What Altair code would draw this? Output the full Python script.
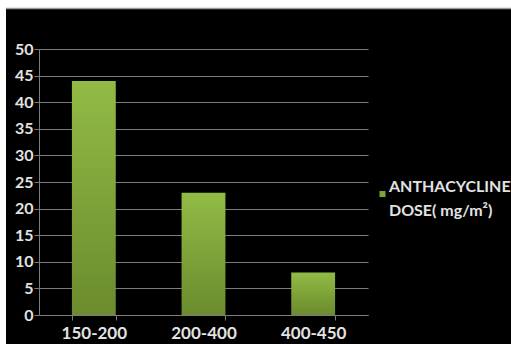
import altair as alt
import pandas as pd

# Bar categories (anthracycline dose ranges, mg/m²) and their counts
categories = ["150-200", "200-400", "400-450"]
values = [44, 23, 8]
series_name = "ANTHACYCLINE|DOSE( mg/m²)"
y_ticks = list(range(0, 55, 5))

bars_df = pd.DataFrame({"dose": categories, "count": values})
legend_df = pd.DataFrame({"series": [series_name]})

W, H = 329, 266
PAD_L, PAD_T = 39, 49
FULL_W, FULL_H = 511, 344

GRID = "#7c7c7c"
LABEL = "#e2e2e2"
GREEN = "#7fa638"
FONT = "Lato"

bar_fill = alt.Gradient(
    gradient="linear",
    stops=[
        alt.GradientStop(color="#92bb45", offset=0),
        alt.GradientStop(color="#6b8b2d", offset=1),
    ],
    x1=0, x2=0, y1=0, y2=1,
)

bars = alt.Chart(bars_df).mark_bar(fill=bar_fill).encode(
    x=alt.X(
        "dose:N",
        sort=categories,
        scale=alt.Scale(paddingInner=0.6, paddingOuter=0.3),
        axis=alt.Axis(
            title=None,
            labelAngle=0,
            tickBand="extent",
            tickSize=5,
            tickColor=GRID,
            domainColor=GRID,
            labelColor=LABEL,
            labelFont=FONT,
            labelFontSize=17,
            labelFontWeight="bold",
            labelPadding=5,
            grid=False,
        ),
    ),
    y=alt.Y(
        "count:Q",
        scale=alt.Scale(domain=[0, 50], nice=False),
        axis=alt.Axis(
            title=None,
            values=y_ticks,
            grid=True,
            gridColor=GRID,
            gridWidth=1,
            tickSize=5,
            tickColor=GRID,
            domainColor=GRID,
            labelColor=LABEL,
            labelFont=FONT,
            labelFontSize=16,
            labelFontWeight="bold",
            labelPadding=1,
        ),
    ),
)

# Legend: swatch plus two-line series name
legend_swatch = alt.Chart(legend_df).mark_square(size=36, color=GREEN, opacity=1).encode(
    x=alt.value(343.5), y=alt.value(145)
)
legend_text = alt.Chart(legend_df).mark_text(
    align="left", baseline="alphabetic", lineBreak="|", lineHeight=24,
    font=FONT, fontSize=16, fontWeight="bold", color=LABEL,
).encode(text="series:N", x=alt.value(350), y=alt.value(143))

# Light frame strips along the top and left edges
frame_df = pd.DataFrame({"k": [0]})
top_strip = alt.Chart(frame_df).mark_rect(color="white").encode(
    x=alt.value(-PAD_L), x2=alt.value(FULL_W - PAD_L),
    y=alt.value(-PAD_T), y2=alt.value(-PAD_T + 8),
)
top_edge = alt.Chart(frame_df).mark_rule(color="#9a9a9a", strokeWidth=1.5).encode(
    x=alt.value(-PAD_L + 6), x2=alt.value(FULL_W - PAD_L),
    y=alt.value(-PAD_T + 8.5),
)
left_strip = alt.Chart(frame_df).mark_rect(color="white").encode(
    x=alt.value(-PAD_L), x2=alt.value(-PAD_L + 6),
    y=alt.value(-PAD_T), y2=alt.value(FULL_H - PAD_T),
)

chart = alt.layer(
    bars, legend_swatch, legend_text, top_strip, top_edge, left_strip
).properties(
    width=W,
    height=H,
    background="black",
    autosize=alt.AutoSizeParams(type="none"),
    padding={"left": PAD_L, "top": PAD_T, "right": FULL_W - PAD_L - W, "bottom": FULL_H - PAD_T - H},
).configure_view(stroke=None)

chart.save("out.html", embed_options={"renderer": "svg", "actions": False})
